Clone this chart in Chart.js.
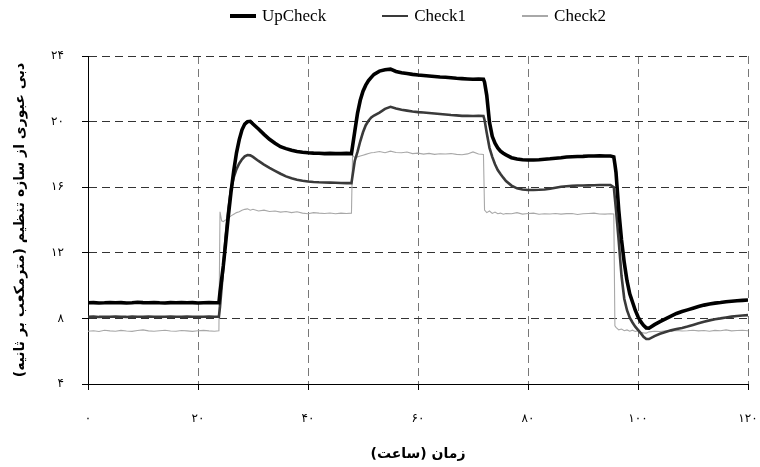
<!DOCTYPE html>
<html>
<head>
<meta charset="utf-8">
<script src="https://cdn.jsdelivr.net/npm/chart.js@4/dist/chart.umd.min.js"></script>
<style>
  html, body { margin: 0; padding: 0; background: #fff; }
  #wrap { position: relative; width: 760px; height: 467px; }
  #legend {
    position: absolute; top: 5px; left: 88px; width: 660px; height: 22px;
    display: flex; justify-content: center; align-items: center;
    font-family: "Liberation Serif", "Times New Roman", serif; font-size: 17px; color: #000;
  }
  .item { display: flex; align-items: center; margin: 0 28px; white-space: nowrap; }
  .swatch { display: inline-block; width: 26px; margin-right: 6px; }
</style>
</head>
<body>
<div id="wrap">
  <canvas id="chart" width="760" height="467"></canvas>
  <div id="legend"></div>
</div>
<script>
// Time in hours since the start of the test
const hours = [
  0, 1, 2, 3, 4,
  5, 6, 7, 8, 9,
  10, 11, 12, 13, 14,
  15, 16, 17, 18, 19,
  20, 21, 22, 23, 23.8,
  24.0, 24.3, 24.6, 25, 25.5,
  26, 26.5, 27, 27.5, 28,
  28.5, 29, 29.5, 30, 31,
  32, 33, 34, 35, 36,
  37, 38, 39, 40, 41,
  42, 43, 44, 45, 46,
  47, 47.9,
  48.1, 48.5, 49, 49.5, 50,
  50.5, 51, 51.5, 52, 53,
  54, 55, 56, 57, 58,
  59, 60, 61, 62, 63,
  64, 65, 66, 67, 68,
  69, 70, 71, 71.9,
  72.1, 72.5, 73, 73.5, 74,
  74.5, 75, 75.5, 76, 77,
  78, 79, 80, 81, 82,
  83, 84, 85, 86, 87,
  88, 89, 90, 91, 92,
  93, 94, 95, 95.6,
  95.8, 96, 96.5, 97, 97.5,
  98, 98.5, 99, 99.5, 100,
  100.5, 101, 101.5, 102, 103,
  104, 105, 106, 107, 108,
  109, 110, 111, 112, 113,
  114, 115, 116, 117, 118,
  119, 120
];

// Discharge through the regulating structure (m3/s)
const upCheck = [
  8.95, 8.96, 8.94, 8.95, 8.97,
  8.95, 8.96, 8.94, 8.95, 8.98,
  8.96, 8.95, 8.97, 8.95, 8.94,
  8.96, 8.95, 8.97, 8.95, 8.96,
  8.94, 8.95, 8.96, 8.95, 8.95,
  9.6, 10.4, 11.2, 12.5, 14.2,
  15.7, 17.0, 18.1, 18.9, 19.5,
  19.85, 20.0, 20.02, 19.85, 19.55,
  19.22, 18.92, 18.68, 18.47, 18.35,
  18.25, 18.18, 18.13, 18.10, 18.08,
  18.07, 18.05, 18.06, 18.05, 18.05,
  18.06, 18.05,
  18.5, 19.4, 20.5, 21.3, 21.85,
  22.22, 22.5, 22.7, 22.88, 23.08,
  23.16, 23.2, 23.06, 22.98, 22.93,
  22.88, 22.84, 22.81, 22.78, 22.75,
  22.72, 22.7, 22.67, 22.64, 22.62,
  22.6, 22.58, 22.59, 22.58,
  22.4, 21.6, 19.95, 19.1, 18.68,
  18.4, 18.2, 18.07, 17.97, 17.8,
  17.72, 17.67, 17.66, 17.66, 17.67,
  17.7, 17.73, 17.77, 17.8, 17.84,
  17.86, 17.87, 17.88, 17.9, 17.9,
  17.92, 17.9, 17.9, 17.85,
  17.4, 16.9, 14.6, 12.8, 11.4,
  10.3, 9.5, 9.0, 8.5, 8.1,
  7.8, 7.58, 7.42, 7.4, 7.62,
  7.8, 7.97, 8.14, 8.3, 8.42,
  8.52, 8.62, 8.72, 8.81, 8.88,
  8.93, 8.97, 9.02, 9.05, 9.08,
  9.1, 9.12
];

const check1 = [
  8.10, 8.11, 8.09, 8.10, 8.10,
  8.12, 8.10, 8.09, 8.11, 8.10,
  8.10, 8.12, 8.10, 8.09, 8.10,
  8.11, 8.10, 8.10, 8.12, 8.10,
  8.09, 8.10, 8.11, 8.10, 8.10,
  8.7, 9.9, 11.1, 12.9, 14.6,
  15.9, 16.6, 17.1, 17.45, 17.7,
  17.88, 17.96, 17.94, 17.85, 17.6,
  17.38, 17.18, 17.0, 16.82, 16.66,
  16.54, 16.45, 16.39, 16.35, 16.32,
  16.3, 16.29, 16.28, 16.27, 16.26,
  16.25, 16.25,
  16.7, 17.6, 18.15, 18.8, 19.35,
  19.78, 20.05, 20.25, 20.37, 20.55,
  20.78, 20.9, 20.8, 20.72, 20.67,
  20.62, 20.58, 20.55, 20.52, 20.49,
  20.46, 20.43, 20.4, 20.38, 20.35,
  20.35, 20.34, 20.35, 20.34,
  20.1, 19.3, 18.4, 17.85, 17.4,
  17.05, 16.8, 16.58, 16.38, 16.1,
  15.93, 15.86, 15.83, 15.83, 15.84,
  15.86, 15.9, 15.97, 16.03, 16.06,
  16.08, 16.1, 16.1, 16.11, 16.12,
  16.13, 16.13, 16.13, 16.0,
  15.3, 14.6, 12.7, 10.6, 9.2,
  8.5, 8.05, 7.75, 7.5, 7.3,
  7.1, 6.88, 6.74, 6.74, 6.92,
  7.06, 7.17, 7.27, 7.35, 7.42,
  7.5, 7.6, 7.7, 7.8, 7.88,
  7.95, 8.0, 8.06, 8.11, 8.15,
  8.18, 8.2
];

const check2 = [
  7.22, 7.25, 7.20, 7.28, 7.24,
  7.22, 7.27, 7.23, 7.21, 7.26,
  7.30, 7.24, 7.22, 7.25, 7.28,
  7.23, 7.22, 7.26, 7.24, 7.21,
  7.25, 7.27, 7.24, 7.22, 7.25,
  14.5, 13.95, 13.9, 14.0, 14.1,
  14.25, 14.35, 14.45, 14.5, 14.6,
  14.65, 14.68, 14.6, 14.65, 14.55,
  14.6, 14.52, 14.55, 14.48, 14.52,
  14.45, 14.5, 14.42, 14.38, 14.45,
  14.42, 14.4, 14.43, 14.38, 14.42,
  14.4, 14.42,
  17.95, 17.8, 17.85, 17.9, 17.95,
  18.0, 18.05, 18.1, 18.12, 18.18,
  18.1, 18.2, 18.12, 18.1, 18.15,
  18.05, 18.08, 18.02, 18.06, 18.0,
  18.04, 18.02, 18.05, 18.0, 17.98,
  18.03, 18.15, 18.02, 18.0,
  14.6, 14.45, 14.55, 14.4, 14.48,
  14.38, 14.42, 14.35, 14.4, 14.38,
  14.45, 14.36, 14.4, 14.42, 14.35,
  14.38, 14.37, 14.4, 14.36, 14.39,
  14.4, 14.34, 14.38, 14.4, 14.42,
  14.37, 14.36, 14.38, 14.37,
  7.55, 7.45, 7.3, 7.35, 7.25,
  7.3, 7.22, 7.28, 7.2, 7.25,
  7.15, 7.12, 7.1, 7.18, 7.22,
  7.2, 7.25, 7.22, 7.27, 7.23,
  7.25, 7.28, 7.24, 7.26, 7.22,
  7.27, 7.25, 7.3, 7.24, 7.26,
  7.28, 7.25
];

const seriesNames = ['UpCheck', 'Check1', 'Check2'];

// Axis ticks and their Persian labels
const xTicks = [0, 20, 40, 60, 80, 100, 120];
const xTickLabels = ['۰', '۲۰', '۴۰', '۶۰', '۸۰', '۱۰۰', '۱۲۰'];
const yTicks = [4, 8, 12, 16, 20, 24];
const yTickLabels = ['۴', '۸', '۱۲', '۱۶', '۲۰', '۲۴'];

const xTitle = '\u200Fزمان (ساعت)\u200F';
const yTitle = '\u200Fدبی عبوری از سازه تنظیم (مترمکعب بر ثانیه)\u200F';

const toPoints = (vals) => hours.map((h, i) => ({ x: h, y: vals[i] }));

const styles = [
  { color: '#000000', width: 3.6 },
  { color: '#3a3a3a', width: 2.6 },
  { color: '#a8a8a8', width: 1.1 }
];
const seriesValues = [upCheck, check1, check2];

const datasets = seriesNames.map((name, i) => ({
  label: name,
  data: toPoints(seriesValues[i]),
  borderColor: styles[i].color,
  borderWidth: styles[i].width,
  pointRadius: 0,
  tension: 0,
  fill: false
}));

const persianFont = '"DejaVu Sans", sans-serif';

const chart = new Chart(document.getElementById('chart'), {
  type: 'line',
  data: { datasets },
  options: {
    responsive: false,
    animation: false,
    parsing: false,
    layout: { padding: { top: 56, right: 12, left: 0, bottom: 0 } },
    plugins: {
      legend: { display: false },
      tooltip: { enabled: false }
    },
    scales: {
      x: {
        type: 'linear',
        min: 0, max: 120,
        afterBuildTicks: (scale) => { scale.ticks = xTicks.map(v => ({ value: v })); },
        afterFit: (scale) => {
          scale.height = 83;
          // the end labels may hang past the plot edges; no extra room needed
          scale.paddingLeft = 0;
          scale.paddingRight = 0;
        },
        ticks: {
          autoSkip: false,
          maxRotation: 0,
          padding: 22,
          color: '#000',
          font: { family: persianFont, size: 12 },
          callback: (v, i) => xTickLabels[i]
        },
        grid: {
          color: '#777',
          lineWidth: 1,
          tickLength: 6,
          tickColor: '#000',
          tickBorderDash: []
        },
        border: { display: true, color: '#000', width: 1, dash: [8, 5] },
        title: {
          display: true,
          text: xTitle,
          color: '#000',
          font: { family: persianFont, size: 14, weight: 'bold' },
          padding: { top: 0, bottom: 4 }
        }
      },
      y: {
        min: 4, max: 24,
        afterBuildTicks: (scale) => { scale.ticks = yTicks.map(v => ({ value: v })); },
        afterFit: (scale) => { scale.width = 88; },
        ticks: {
          padding: 18,
          color: '#000',
          font: { family: persianFont, size: 12 },
          callback: (v, i) => yTickLabels[i]
        },
        grid: {
          color: '#333',
          lineWidth: 1,
          tickLength: 6,
          tickColor: '#000',
          tickBorderDash: []
        },
        border: { display: true, color: '#000', width: 1, dash: [8, 5] },
        title: {
          display: true,
          text: yTitle,
          color: '#000',
          font: { family: persianFont, size: 14, weight: 'bold' },
          padding: { top: 12, bottom: 0 }
        }
      }
    }
  }
});

// Legend built from the chart's datasets, centred over the plot area
const legendEl = document.getElementById('legend');
chart.data.datasets.forEach((ds) => {
  const item = document.createElement('span');
  item.className = 'item';
  const sw = document.createElement('span');
  sw.className = 'swatch';
  sw.style.height = ds.borderWidth + 'px';
  sw.style.background = ds.borderColor;
  const txt = document.createElement('span');
  txt.textContent = ds.label;
  item.appendChild(sw);
  item.appendChild(txt);
  legendEl.appendChild(item);
});
const area = chart.chartArea;
legendEl.style.left = area.left + 'px';
legendEl.style.width = (area.right - area.left) + 'px';
</script>
</body>
</html>
